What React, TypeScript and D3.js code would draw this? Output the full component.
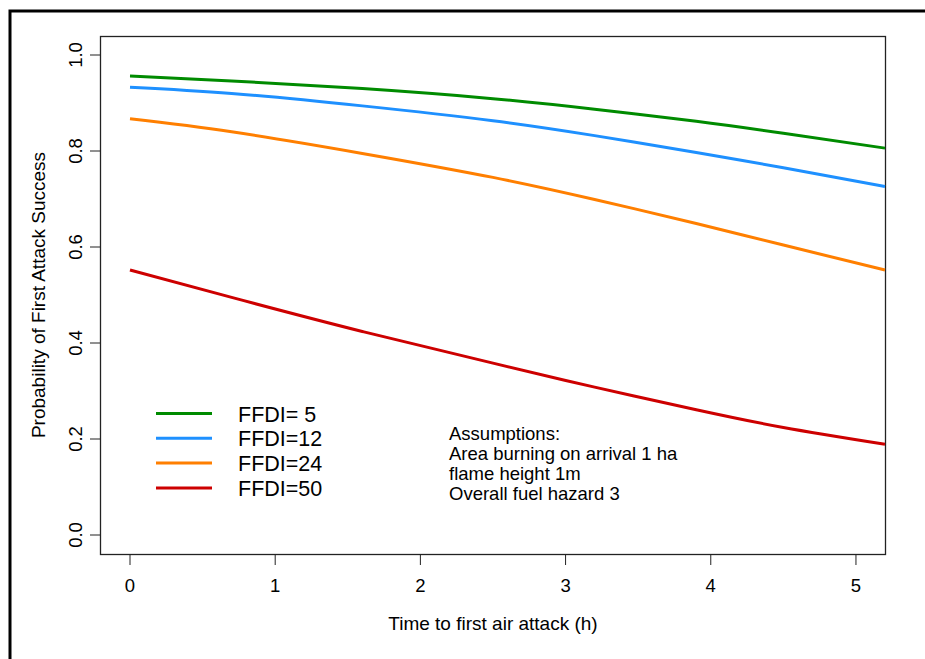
import React from "react";
import * as d3 from "d3";

// Time to first air attack (hours) at which each curve was sampled
const times = [0, 0.7, 1.6, 2.5, 3.2, 3.9, 4.5, 5.2];

// Probability of first attack success for each FFDI level
const ffdi5 = [0.956, 0.946, 0.930, 0.909, 0.887, 0.862, 0.837, 0.806];
const ffdi12 = [0.933, 0.920, 0.894, 0.863, 0.832, 0.797, 0.765, 0.726];
const ffdi24 = [0.867, 0.840, 0.795, 0.745, 0.699, 0.649, 0.604, 0.552];
const ffdi50 = [0.552, 0.495, 0.424, 0.358, 0.308, 0.261, 0.224, 0.189];

const seriesLabels = ["FFDI= 5", "FFDI=12", "FFDI=24", "FFDI=50"];
const seriesColors = ["#008B00", "#1E90FF", "#FF7F00", "#CD0000"];

const xTicks = [0, 1, 2, 3, 4, 5];
const yTicks = [0, 0.2, 0.4, 0.6, 0.8, 1.0];

const assumptions = [
  "Assumptions:",
  "Area burning on arrival 1 ha",
  "flame height 1m",
  "Overall fuel hazard 3",
];

const W = 925;
const H = 659;
const plot = { left: 100, right: 885, top: 36, bottom: 554 };
const FONT = "'Liberation Sans', Arial, sans-serif";

export default function App() {
  const x = d3.scaleLinear().domain([0, 5.2]).range([130, plot.right]);
  const y = d3.scaleLinear().domain([0, 1]).range([535, 55]);

  const all = [ffdi5, ffdi12, ffdi24, ffdi50];
  const line = d3
    .line<[number, number]>()
    .x((d) => x(d[0]))
    .y((d) => y(d[1]))
    .curve(d3.curveNatural);

  return (
    <svg
      width={W}
      height={H}
      style={{ position: "absolute", left: 0, top: 0, background: "#fff" }}
      fontFamily={FONT}
    >
      <rect x={0} y={0} width={W} height={H} fill="#fff" />
      {/* outer frame */}
      <rect x={10} y={11} width={1000} height={1000} fill="none" stroke="#000" strokeWidth={3} />

      {/* plot box */}
      <rect
        x={plot.left + 0.5}
        y={plot.top + 0.5}
        width={plot.right - plot.left}
        height={plot.bottom - plot.top}
        fill="none"
        stroke="#222"
        strokeWidth={1.3}
      />

      {/* series */}
      {all.map((vals, i) => (
        <path
          key={i}
          d={line(times.map((t, j) => [t, vals[j]] as [number, number])) || ""}
          fill="none"
          stroke={seriesColors[i]}
          strokeWidth={3}
        />
      ))}

      {/* y axis */}
      <line x1={plot.left + 0.5} x2={plot.left + 0.5} y1={y(0)} y2={y(1)} stroke="#222" />
      {yTicks.map((t) => (
        <g key={t}>
          <line x1={90} x2={plot.left} y1={y(t)} y2={y(t)} stroke="#222" />
          <text
            transform={`translate(82,${y(t)}) rotate(-90)`}
            textAnchor="middle"
            fontSize={18.5}
            fill="#000"
          >
            {t.toFixed(1)}
          </text>
        </g>
      ))}

      {/* x axis */}
      <line x1={x(0)} x2={x(5)} y1={plot.bottom + 0.5} y2={plot.bottom + 0.5} stroke="#222" />
      {xTicks.map((t) => (
        <g key={t}>
          <line x1={x(t)} x2={x(t)} y1={plot.bottom} y2={565} stroke="#222" />
          <text x={x(t)} y={592} textAnchor="middle" fontSize={18.5} fill="#000">
            {t}
          </text>
        </g>
      ))}

      {/* axis titles */}
      <text x={493} y={630} textAnchor="middle" fontSize={19}>
        Time to first air attack (h)
      </text>
      <text
        transform={`translate(45,${(plot.top + plot.bottom) / 2}) rotate(-90)`}
        textAnchor="middle"
        fontSize={19}
      >
        Probability of First Attack Success
      </text>

      {/* legend */}
      {seriesLabels.map((lab, i) => {
        const ly = 413.5 + i * 24.8;
        return (
          <g key={lab}>
            <line x1={156} x2={212} y1={ly} y2={ly} stroke={seriesColors[i]} strokeWidth={3} />
            <text x={238} y={ly + 8} fontSize={21.5} style={{ whiteSpace: "pre" }}>
              {lab}
            </text>
          </g>
        );
      })}

      {/* notes */}
      {assumptions.map((s, i) => (
        <text key={s} x={449} y={439.5 + i * 20} fontSize={18.5}>
          {s}
        </text>
      ))}
    </svg>
  );
}
